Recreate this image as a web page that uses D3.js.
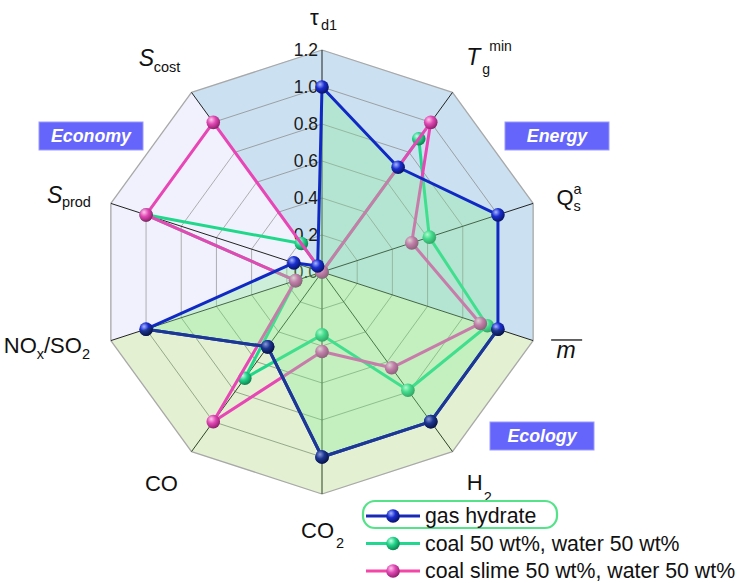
<!DOCTYPE html>
<html><head><meta charset="utf-8">
<script src="https://cdn.jsdelivr.net/npm/d3@7/dist/d3.min.js"></script>
<style>body{margin:0;background:#fff}svg{display:block;font-family:"Liberation Sans",Arial,sans-serif}</style>
</head><body>
<svg id="c" width="750" height="583"></svg>
<script>
// ---- data ----
const axisNames = ["tau_d1","T_g^min","Q_s^a","m_bar","H2","CO2","CO","NOx/SO2","S_prod","S_cost"];
const tickValues = [0, 0.2, 0.4, 0.6, 0.8, 1.0, 1.2];
const tickLabels = ["0.0","0.2","0.4","0.6","0.8","1.0","1.2"];
const seriesNames = ["gas hydrate","coal 50 wt%, water 50 wt%","coal slime 50 wt%, water 50 wt%"];
const gasHydrate = [1.0, 0.70, 1.0, 1.0, 1.0, 1.0, 0.50, 1.0, 0.16, 0.04];
const coal       = [0.0, 0.89, 0.61, 0.94, 0.79, 0.34, 0.71, 0.15, 1.0, 0.19];
const coalSlime  = [0.0, 1.0, 0.51, 0.90, 0.64, 0.43, 1.0, 0.15, 1.0, 1.0];
const groupNames = ["Economy","Energy","Ecology"];

// ---- layout ----
const svg = d3.select("#c");
const cx = 322, cy = 272;
const r = d3.scaleLinear().domain([0, 1.2]).range([0, 222]);
const N = axisNames.length;
const ang = d3.scaleLinear().domain([0, N]).range([0, 2*Math.PI]);
const pt = (i, v) => [cx + r(v)*Math.sin(ang(i)), cy - r(v)*Math.cos(ang(i))];
const maxV = 1.2;

const defs = svg.append("defs");
function sphere(id, light, mid, dark){
  const g = defs.append("radialGradient").attr("id", id).attr("cx","38%").attr("cy","35%").attr("r","70%").attr("fx","35%").attr("fy","30%");
  g.append("stop").attr("offset","0%").attr("stop-color", light);
  g.append("stop").attr("offset","45%").attr("stop-color", mid);
  g.append("stop").attr("offset","100%").attr("stop-color", dark);
}
sphere("gBlue", "#a9b6ff", "#1a2ed0", "#06105e");
sphere("gBlueDark", "#8a9ad8", "#1c3690", "#061040");
sphere("gGreen", "#c8ffe6", "#22d48a", "#0a7a48");
sphere("gPink", "#ffc8ec", "#e048b4", "#8a1a66");

const seriesStyle = [
  {data: gasHydrate, line: "#1029c4", grad: "url(#gBlue)", leg: "#1a2ab8"},
  {data: coal, line: "#1fd88a", grad: "url(#gGreen)", leg: "#22d890"},
  {data: coalSlime, line: "#e845b5", grad: "url(#gPink)", leg: "#f545a8"}
];

// region of each sector: 0 energy(blue), 1 economy(lavender), 2 ecology(green)
const region = i => ([9,0,1,2].includes(i) ? 0 : ([7,8].includes(i) ? 1 : 2));
const regionFill = ["#cbe0f1", "#f1f1fd", "#e3f0d2"];
const regionGrid = ["#8f8f8f", "#9c9c9c", "#7f9878"];

// ---- sector backgrounds ----
const sectorPath = i => {
  const a = pt(i, maxV), b = pt((i+1)%N, maxV);
  return `M${cx},${cy}L${a[0]},${a[1]}L${b[0]},${b[1]}Z`;
};
svg.append("g").selectAll("path").data(d3.range(N)).join("path")
  .attr("d", sectorPath).attr("fill", i => regionFill[region(i)])
  .attr("stroke", i => regionFill[region(i)]).attr("stroke-width", 0.5);

// lower region clip
defs.append("clipPath").attr("id", "lowClip").selectAll("path").data([3,4,5,6]).join("path").attr("d", sectorPath);

// ---- grid rings (per sector segment) ----
const segs = [];
tickValues.slice(1).forEach(v => d3.range(N).forEach(i => segs.push({v, i})));
svg.append("g").selectAll("line").data(segs).join("line")
  .attr("x1", d => pt(d.i, d.v)[0]).attr("y1", d => pt(d.i, d.v)[1])
  .attr("x2", d => pt((d.i+1)%N, d.v)[0]).attr("y2", d => pt((d.i+1)%N, d.v)[1])
  .attr("stroke", d => d.v === maxV ? "#a8a8a8" : regionGrid[region(d.i)])
  .attr("stroke-width", d => d.v === maxV ? 1.3 : 0.8);

// ---- axes ----
svg.append("g").selectAll("line").data(d3.range(N)).join("line")
  .attr("x1", cx).attr("y1", cy)
  .attr("x2", i => pt(i, maxV)[0]).attr("y2", i => pt(i, maxV)[1])
  .attr("stroke", i => ([4,5,6].includes(i) ? "#2a4424" : "#222")).attr("stroke-width", 1);

// ---- tick labels ----
svg.append("g").selectAll("text").data(tickValues).join("text")
  .attr("x", cx - 4).attr("y", v => cy - r(v) + 6)
  .attr("text-anchor", "end").attr("font-size", 17.5).attr("fill", "#1a1a1a")
  .text((v, i) => tickLabels[i]);

// ---- series drawing ----
const radar = d3.lineRadial().angle((d, i) => ang(i)).radius(d => r(d)).curve(d3.curveLinearClosed);
function drawSeries(s, line, grad, clip){
  const g = svg.append("g");
  if (clip) g.attr("clip-path", clip);
  g.append("path").attr("transform", `translate(${cx},${cy})`)
    .attr("d", radar(s.data)).attr("fill", "none").attr("stroke", line)
    .attr("stroke-width", 3).attr("stroke-linejoin", "round");
  g.selectAll("circle").data(s.data).join("circle")
    .attr("cx", (d, i) => pt(i, d)[0]).attr("cy", (d, i) => pt(i, d)[1])
    .attr("r", 6.8).attr("fill", grad);
}
drawSeries(seriesStyle[1], seriesStyle[1].line, seriesStyle[1].grad);
drawSeries(seriesStyle[2], seriesStyle[2].line, seriesStyle[2].grad);

// translucent gas-hydrate fill over the other series
svg.append("path").attr("transform", `translate(${cx},${cy})`)
  .attr("d", radar(gasHydrate)).attr("fill", "rgb(135,236,150)").attr("fill-opacity", 0.33);

drawSeries(seriesStyle[0], seriesStyle[0].line, seriesStyle[0].grad);
// darker rendering of the gas-hydrate series inside the ecology region
drawSeries(seriesStyle[0], "#1d3894", "url(#gBlueDark)", "url(#lowClip)");

// ---- axis labels ----
const labelR = [254, 269, 257, 256, 266, 263, 265, 286, 265, 267];
const labelAng = [0, 37.9, 73.6, 107.5, 143.9, 180, 217.3, 255, 286.5, 322.3];
const lab = svg.append("g").attr("fill", "#111");
const pos = i => {
  const a = labelAng[i] * Math.PI / 180;
  return [cx + labelR[i]*Math.sin(a), cy - labelR[i]*Math.cos(a)];
};
const put = (i) => lab.append("g").attr("transform", `translate(${pos(i)[0]},${pos(i)[1]})`);
const T = (g, x, y, txt, size, opts={}) => {
  const t = g.append("text").attr("x", x).attr("y", y).attr("font-size", size).text(txt);
  if (opts.italic) t.attr("font-style", "italic");
  if (opts.anchor) t.attr("text-anchor", opts.anchor);
  return t;
};
// tau_d1
{ const g = put(0); T(g, -12, 7, "τ", 22); T(g, -1, 12, "d1", 14.5); }
// T_g^min
{ const g = put(1); T(g, -21, 5, "T", 23, {italic:true}); T(g, -5, 14, "g", 14); T(g, 2, -9, "min", 14); }
// Q_s^a
{ const g = put(2); T(g, -12, 6, "Q", 22); T(g, 5, -5, "a", 14.5); T(g, 5, 12, "s", 14.5); }
// m bar
{ const g = put(3); T(g, 0, 9, "m", 23, {italic:true, anchor:"middle"});
  g.append("line").attr("x1", -15).attr("x2", 16).attr("y1", -9).attr("y2", -9).attr("stroke", "#111").attr("stroke-width", 1.3); }
// H2
{ const g = put(4); T(g, -12, 3, "H", 22); T(g, 5, 15, "2", 14.5); }
// CO2
{ const g = put(5); T(g, -21, 3, "CO", 22); T(g, 14, 13, "2", 14.5); }
// CO
{ const g = put(6); T(g, 0, 8, "CO", 22, {anchor:"middle"}); }
// NOx/SO2
{ const g = put(7); const t = g.append("text").attr("x", -42).attr("y", 7).attr("font-size", 22);
  t.append("tspan").text("NO"); t.append("tspan").attr("font-size", 14.5).attr("dy", 6).text("x");
  t.append("tspan").attr("dy", -6).text("/SO"); t.append("tspan").attr("font-size", 14.5).attr("dy", 6).text("2"); }
// S_prod
{ const g = put(8); T(g, -21, 6, "S", 23, {italic:true}); T(g, -6, 10, "prod", 14.5); }
// S_cost
{ const g = put(9); T(g, -20, 5, "S", 23, {italic:true}); T(g, -5, 11, "cost", 14.5); }

// ---- group boxes ----
const boxes = [
  {name: groupNames[0], x: 39, y: 122},
  {name: groupNames[1], x: 505, y: 122},
  {name: groupNames[2], x: 490, y: 422}
];
const bg = svg.append("g").selectAll("g").data(boxes).join("g").attr("transform", d => `translate(${d.x},${d.y})`);
bg.append("rect").attr("width", 104).attr("height", 28).attr("fill", "#6565fb").attr("stroke", "#9a9aff").attr("stroke-width", 1);
bg.append("text").attr("x", 52).attr("y", 20).attr("text-anchor", "middle").attr("fill", "#fff")
  .attr("font-size", 17.8).attr("font-weight", "bold").attr("font-style", "italic").text(d => d.name);

// ---- legend ----
const leg = svg.append("g").attr("transform", "translate(363,516)");
leg.append("rect").attr("x", 0).attr("y", -15).attr("width", 194).attr("height", 27).attr("rx", 12)
  .attr("fill", "none").attr("stroke", "#55e38a").attr("stroke-width", 2.2);
const li = leg.selectAll("g").data(seriesStyle).join("g").attr("transform", (d, i) => `translate(0,${i*27.5})`);
li.append("line").attr("x1", 3).attr("x2", 57).attr("stroke", d => d.leg).attr("stroke-width", 3);
li.append("circle").attr("cx", 30).attr("r", 6.8).attr("fill", d => d.grad);
li.append("text").attr("x", 62).attr("y", 7).attr("font-size", 21.3).attr("fill", "#111").text((d, i) => seriesNames[i]);
</script>
</body></html>
